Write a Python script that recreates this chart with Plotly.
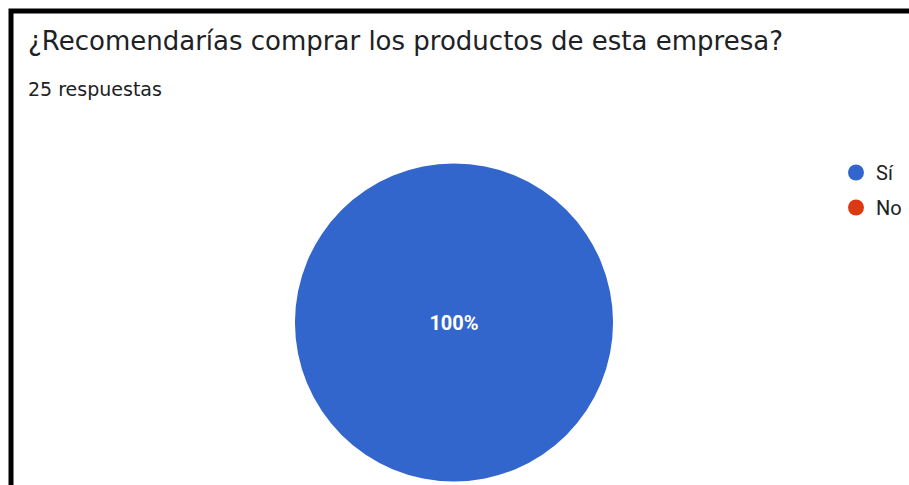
import plotly.graph_objects as go

title_text = "¿Recomendarías comprar los productos de esta empresa?"
subtitle_text = "25 respuestas"
labels = ["Sí", "No"]
values = [25, 0]
colors = ["#3366CC", "#DC3912"]

W, H = 909, 485

fig = go.Figure()
fig.add_trace(go.Pie(
    labels=labels, values=values,
    marker=dict(colors=colors, line=dict(width=0)),
    textinfo="percent", texttemplate="%{percent:.0%}",
    textposition="inside",
    insidetextfont=dict(family="Roboto", size=20, color="white", weight="bold"),
    sort=False, showlegend=False, hoverinfo="label+percent",
    domain=dict(x=[295 / W, 613 / W], y=[1 - 482 / H, 1 - 163 / H]),
))
for lab, col in zip(labels, colors):
    fig.add_trace(go.Scatter(
        x=[None], y=[None], mode="markers", name=lab, legendgroup=lab,
        marker=dict(color=col, size=18, symbol="circle"),
    ))

fig.update_layout(
    width=W, height=H,
    margin=dict(l=0, r=0, t=0, b=0),
    paper_bgcolor="white", plot_bgcolor="white",
    xaxis=dict(visible=False), yaxis=dict(visible=False),
    legend=dict(x=836 / W, y=1 - 153 / H, xanchor="left", yanchor="top",
                font=dict(family="Roboto", size=20, color="#202124"),
                itemsizing="trace", traceorder="grouped", tracegroupgap=6,
                bgcolor="rgba(0,0,0,0)"),
    shapes=[dict(type="path", xref="paper", yref="paper",
                 path=f"M {11/W} 0 L {11/W} {1-11/H} L 1 {1-11/H}",
                 line=dict(color="black", width=5))],
    annotations=[
        dict(text=title_text, xref="paper", yref="paper",
             x=26 / W, y=1 - 41 / H, xanchor="left", yanchor="middle",
             showarrow=False, font=dict(family="DejaVu Sans", size=26, color="#202124")),
        dict(text=subtitle_text, xref="paper", yref="paper",
             x=26 / W, y=1 - 89 / H, xanchor="left", yanchor="middle",
             showarrow=False, font=dict(family="DejaVu Sans", size=19, color="#202124")),
    ],
)

fig.write_html("out.html")
